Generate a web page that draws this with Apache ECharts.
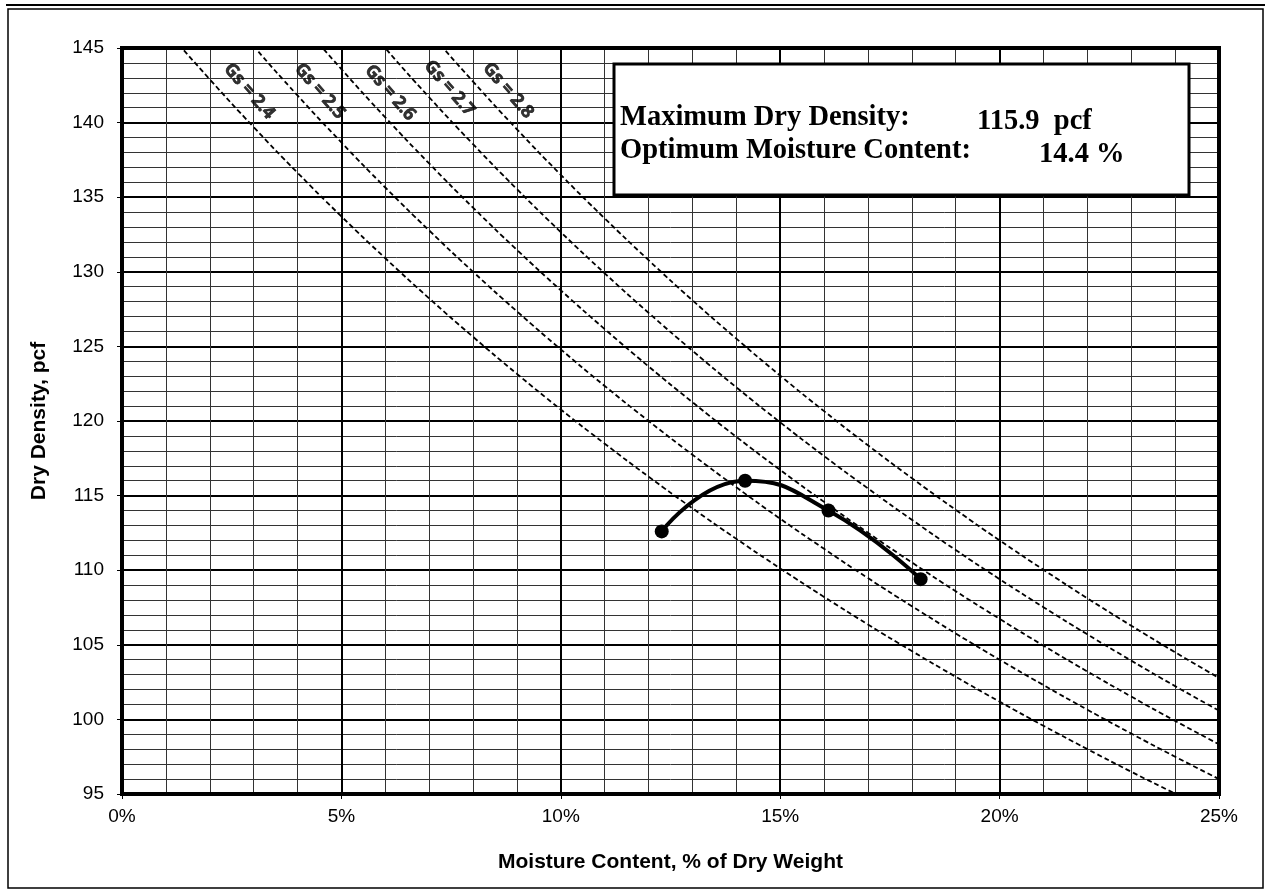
<!DOCTYPE html>
<html>
<head>
<meta charset="utf-8">
<script src="https://cdn.jsdelivr.net/npm/echarts@6/dist/echarts.min.js"></script>
<style>
html,body{margin:0;padding:0;background:#fff;}
#chart{width:1266px;height:891px;}
</style>
</head>
<body>
<div id="chart"></div>
<script>
// ---- data ----
const moisture = [12.3, 14.2, 16.1, 18.2];          // % of dry weight
const density  = [112.6, 116.0, 114.0, 109.4];     // pcf

const zavMoisture = [0,1,2,3,4,5,6,7,8,9,10,11,12,13,14,15,16,17,18,19,20,21,22,23,24,25];
const zav24 = [149.76,146.25,142.90,139.70,136.64,133.71,130.91,128.22,125.64,123.16,120.77,118.48,116.27,114.15,112.10,110.12,108.21,106.36,104.58,102.86,101.19,99.57,98.01,96.49,95.03,93.60];
const zav25 = [156.00,152.20,148.57,145.12,141.82,138.67,135.65,132.77,130.00,127.35,124.80,122.35,120.00,117.74,115.56,113.45,111.43,109.47,107.59,105.76,104.00,102.30,100.65,99.05,97.50,96.00];
const zav26 = [162.24,158.13,154.22,150.50,146.96,143.58,140.35,137.26,134.30,131.47,128.76,126.16,123.66,121.26,118.94,116.72,114.58,112.51,110.52,108.59,106.74,104.94,103.21,101.53,99.90,98.33];
const zav27 = [168.48,164.05,159.85,155.86,152.06,148.44,144.99,141.70,138.55,135.54,132.66,129.90,127.25,124.71,122.26,119.91,117.65,115.48,113.38,111.35,109.40,107.52,105.70,103.94,102.23,100.59];
const zav28 = [174.72,169.96,165.46,161.18,157.11,153.26,149.59,146.09,142.75,139.55,136.50,133.58,130.78,128.09,125.52,123.04,120.66,118.37,116.17,114.05,112.00,110.03,108.12,106.28,104.50,102.78];
const gsLabels = ['Gs = 2.4','Gs = 2.5','Gs = 2.6','Gs = 2.7','Gs = 2.8'];

const maxDryDensity = '115.9';
const optMoisture = '14.4';

const xTickLabels = ['0%','5%','10%','15%','20%','25%'];
const yTickLabels = ['95','100','105','110','115','120','125','130','135','140','145'];

// ---- chart ----
const chart = echarts.init(document.getElementById('chart'), null, {renderer:'canvas'});
const zavSets = [zav24, zav25, zav26, zav27, zav28];
const labelAnchors = [[2.90,142.1],[4.51,142.1],[6.11,142.0],[7.46,142.3],[8.80,142.15]];

const series = [];
zavSets.forEach((arr, i) => {
  series.push({
    type:'line', data: zavMoisture.map((w,j)=>[w, arr[j]]),
    showSymbol:false, smooth:true, clip:true, silent:true,
    lineStyle:{color:'#000', width:1.8, type:[5,3]}, z:3
  });
  series.push({
    type:'scatter', data:[labelAnchors[i]], symbolSize:0, silent:true, z:4,
    label:{show:true, position:'inside', formatter: gsLabels[i], rotate:-49,
      fontFamily:'"Open Sans"', fontWeight:'bold', fontSize:18, color:'#000',
      textBorderColor:'#000', textBorderWidth:0.6}
  });
});
series.push({
  type:'line', data: moisture.map((w,i)=>[w, density[i]]),
  smooth:0.5, symbol:'circle', symbolSize:14,
  itemStyle:{color:'#000'}, lineStyle:{color:'#000', width:4}, z:5
});

const axisFont = {fontFamily:'Arial, "Liberation Sans"', fontSize:19, color:'#000'};
const boxFont = 'bold 28.5px "Liberation Serif", "Times New Roman", serif';
chart.setOption({
  animation:false,
  backgroundColor:'#fff',
  grid:{left:122, right:47, top:48, bottom:97, show:true, borderColor:'#000', borderWidth:4, backgroundColor:'transparent', z:6},
  xAxis:{
    type:'value', min:0, max:25, interval:5,
    axisLine:{show:true, lineStyle:{color:'#000', width:4}},
    axisTick:{show:true, length:5, lineStyle:{color:'#000', width:1}},
    axisLabel:Object.assign({margin:13, formatter:(v)=>xTickLabels[Math.round(v/5)]}, axisFont),
    splitLine:{show:true, lineStyle:{color:'#000', width:2}},
    minorTick:{show:false, splitNumber:5},
    minorSplitLine:{show:true, lineStyle:{color:'#333', width:1}},
    name:'Moisture Content, % of Dry Weight', nameLocation:'middle', nameGap:58,
    nameTextStyle:{fontFamily:'Arial, "Liberation Sans"', fontWeight:'bold', fontSize:21, color:'#000'}
  },
  yAxis:{
    type:'value', min:95, max:145, interval:5,
    axisLine:{show:true, lineStyle:{color:'#000', width:4}},
    axisTick:{show:true, length:5, lineStyle:{color:'#000', width:1}},
    axisLabel:Object.assign({margin:18, formatter:(v)=>yTickLabels[Math.round((v-95)/5)]}, axisFont),
    splitLine:{show:true, lineStyle:{color:'#000', width:2}},
    minorTick:{show:false, splitNumber:5},
    minorSplitLine:{show:true, lineStyle:{color:'#333', width:1}},
    name:'Dry Density, pcf', nameLocation:'middle', nameGap:72, nameRotate:90,
    nameTextStyle:{fontFamily:'Arial, "Liberation Sans"', fontWeight:'bold', fontSize:21, color:'#000'}
  },
  series: series,
  graphic:[
    {type:'rect', shape:{x:8, y:9, width:1255, height:879}, style:{fill:'none', stroke:'#000', lineWidth:1.5}, z:1, silent:true},
    {type:'line', shape:{x1:6, y1:5, x2:1265, y2:5}, style:{stroke:'#000', lineWidth:2}, z:1, silent:true},
    {type:'rect', shape:{x:614, y:64, width:575, height:131}, style:{fill:'#fff', stroke:'#000', lineWidth:3}, z:100, silent:true},
    {type:'text', x:620, y:118, z:101, silent:true, style:{text:'Maximum Dry Density:', font:boxFont, fill:'#000', verticalAlign:'middle', align:'left'}},
    {type:'text', x:620, y:151, z:101, silent:true, style:{text:'Optimum Moisture Content:', font:boxFont, fill:'#000', verticalAlign:'middle', align:'left'}},
    {type:'text', x:977, y:122, z:101, silent:true, style:{text: maxDryDensity + '  pcf', font:boxFont, fill:'#000', verticalAlign:'middle', align:'left'}},
    {type:'text', x:1039, y:155, z:101, silent:true, style:{text: optMoisture + ' %', font:boxFont, fill:'#000', verticalAlign:'middle', align:'left'}}
  ]
});
</script>
</body>
</html>
